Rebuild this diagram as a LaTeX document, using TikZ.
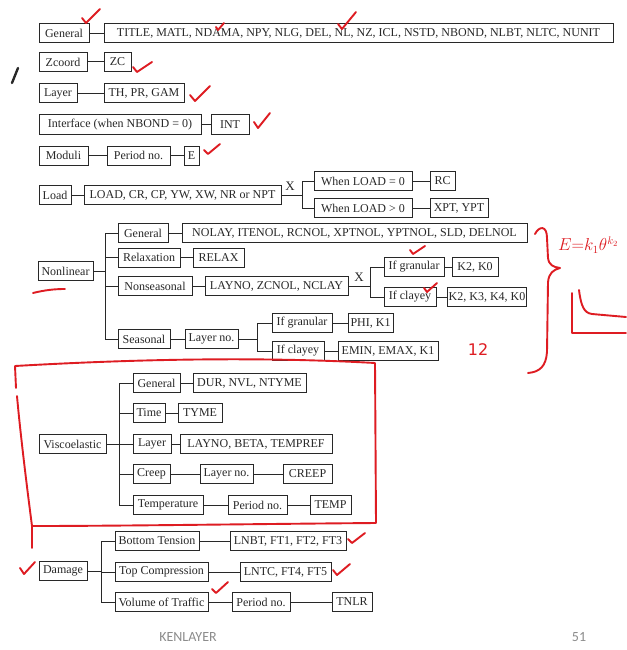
\documentclass[tikz,border=0pt]{standalone}
\usepackage{fontspec}
\setmainfont{Liberation Serif}
\newfontfamily\slidefont{Carlito}
\newfontfamily\handfont{DejaVu Sans}
\usetikzlibrary{calc}
\definecolor{ink}{RGB}{40,40,40}
\definecolor{pen}{RGB}{222,28,34}
\definecolor{foot}{RGB}{140,140,140}
\newcommand\mybox[5]{\node[bx,minimum width={#3-#2}] (#1) at ({(#2+#3)/2},#4) {#5};}
\begin{document}
\begin{tikzpicture}[x=1pt,y=-1pt,
  font=\fontsize{12}{14}\selectfont,
  bx/.style={draw=ink,line width=1pt,minimum height=19pt,inner sep=1pt,text=ink},
  ln/.style={draw=ink,line width=1pt},
  xlab/.style={inner sep=0pt,text=ink,font=\fontsize{13}{14}\selectfont},
  tick/.style={draw=pen,line width=1.9pt,line cap=round,line join=round}]
\useasboundingbox (0,0) rectangle (626,650);
\fill[white] (0,0) rectangle (626,650);

% ---- simple rows
\mybox{g}{39}{89}{33.5}{General}
\mybox{gl}{104}{613}{33.5}{TITLE, MATL, NDAMA, NPY, NLG, DEL, NL, NZ, ICL, NSTD, NBOND, NLBT, NLTC, NUNIT}
\draw[ln] (g) -- (gl);
\mybox{z}{39}{87}{62}{Zcoord}
\mybox{zc}{104}{131}{62}{ZC}
\draw[ln] (z) -- (zc);
\mybox{ly}{39}{77}{93.5}{Layer}
\mybox{lyv}{104}{184}{93.5}{TH, PR, GAM}
\draw[ln] (ly) -- (lyv);
\mybox{inf}{39}{201}{124.5}{Interface (when NBOND = 0)}
\mybox{int}{211}{249}{124.5}{INT}
\draw[ln] (inf) -- (int);
\mybox{mo}{39}{88}{155.5}{Moduli}
\mybox{mop}{107}{170}{155.5}{Period no.}
\mybox{moe}{184}{199}{155.5}{E}
\draw[ln] (mo) -- (mop);
\draw[ln] (mop) -- (moe);

% ---- Load
\mybox{ld}{39}{71}{195}{Load}
\mybox{ldv}{84}{281}{195}{LOAD, CR, CP, YW, XW, NR or NPT}
\draw[ln] (ld) -- (ldv);
\node[xlab] (x1) at (290,186) {X};
\coordinate (lb) at (302,195);
\mybox{w0}{314}{412}{181}{When LOAD = 0}
\mybox{rc}{430}{455}{181}{RC}
\mybox{w1}{314}{412}{208}{When LOAD > 0}
\mybox{xpt}{430}{488}{208}{XPT, YPT}
\draw[ln] (ldv) -- (lb);
\draw[ln] (lb) |- (w0);
\draw[ln] (lb) |- (w1);
\draw[ln] (w0) -- (rc);
\draw[ln] (w1) -- (xpt);

% ---- Nonlinear
\mybox{nl}{38}{93}{271}{Nonlinear}
\coordinate (nb0) at (105,271);
\mybox{nlg}{118}{168}{233}{General}
\mybox{nlgv}{182}{527}{233}{NOLAY, ITENOL, RCNOL, XPTNOL, YPTNOL, SLD, DELNOL}
\mybox{nlr}{118}{180}{257.5}{Relaxation}
\mybox{nlrv}{193}{244}{257.5}{RELAX}
\mybox{nlns}{118}{192}{286}{Nonseasonal}
\mybox{nlnsv}{205}{348}{286}{LAYNO, ZCNOL, NCLAY}
\node[xlab] (x2) at (359,277) {X};
\coordinate (nb1) at (370,286);
\mybox{ig1}{384}{444}{267}{If granular}
\mybox{k20}{452}{498}{267}{K2, K0}
\mybox{ic1}{384}{436}{297}{If clayey}
\mybox{k2340}{450}{524}{297}{K2, K3, K4, K0}
\mybox{nls}{118}{170}{339}{Seasonal}
\mybox{nlsl}{185}{238}{339}{Layer no.}
\coordinate (nb2) at (257,339);
\mybox{ig2}{272}{332}{323}{If granular}
\mybox{phi}{348}{393}{323}{PHI, K1}
\mybox{ic2}{272}{324}{351}{If clayey}
\mybox{emin}{338}{438}{351}{EMIN, EMAX, K1}
\draw[ln] (nl) -- (nb0);
\foreach \c in {nlg,nlr,nlns,nls} \draw[ln] (nb0) |- (\c);
\draw[ln] (nlg) -- (nlgv);
\draw[ln] (nlr) -- (nlrv);
\draw[ln] (nlns) -- (nlnsv);
\draw[ln] (nlnsv) -- (nb1);
\draw[ln] (nb1) |- (ig1);
\draw[ln] (nb1) |- (ic1);
\draw[ln] (ig1) -- (k20);
\draw[ln] (ic1) -- (k2340);
\draw[ln] (nls) -- (nlsl);
\draw[ln] (nlsl) -- (nb2);
\draw[ln] (nb2) |- (ig2);
\draw[ln] (nb2) |- (ic2);
\draw[ln] (ig2) -- (phi);
\draw[ln] (ic2) -- (emin);

% ---- Viscoelastic
\mybox{ve}{39}{106}{444}{Viscoelastic}
\coordinate (vb) at (119,444);
\mybox{veg}{133}{180}{383}{General}
\mybox{vegv}{193}{306}{383}{DUR, NVL, NTYME}
\mybox{vet}{133}{165}{413}{Time}
\mybox{vetv}{178}{222}{413}{TYME}
\mybox{vel}{133}{171}{444}{Layer}
\mybox{velv}{180}{332}{444}{LAYNO, BETA, TEMPREF}
\mybox{vec}{133}{170}{474}{Creep}
\mybox{vecl}{200}{253}{474}{Layer no.}
\mybox{vecc}{283}{332}{474}{CREEP}
\mybox{vetp}{133}{203}{505}{Temperature}
\mybox{vetpp}{228}{287}{505}{Period no.}
\mybox{vetpt}{310}{351}{505}{TEMP}
\draw[ln] (ve) -- (vb);
\foreach \c in {veg,vet,vel,vec,vetp} \draw[ln] (vb) |- (\c);
\draw[ln] (veg) -- (vegv);
\draw[ln] (vet) -- (vetv);
\draw[ln] (vel) -- (velv);
\draw[ln] (vec) -- (vecl);
\draw[ln] (vecl) -- (vecc);
\draw[ln] (vetp) -- (vetpp);
\draw[ln] (vetpp) -- (vetpt);

% ---- Damage
\mybox{dm}{39}{87}{571}{Damage}
\coordinate (db) at (101,571);
\mybox{dbt}{115}{199}{541}{Bottom Tension}
\mybox{dbtv}{230}{346}{541}{LNBT, FT1, FT2, FT3}
\mybox{dtc}{115}{208}{572}{Top Compression}
\mybox{dtcv}{240}{331}{572}{LNTC, FT4, FT5}
\mybox{dvt}{115}{208}{602}{Volume of Traffic}
\mybox{dvtp}{232}{290}{602}{Period no.}
\mybox{dvtt}{332}{372}{602}{TNLR}
\draw[ln] (dm) -- (db);
\foreach \c in {dbt,dtc,dvt} \draw[ln] (db) |- (\c);
\draw[ln] (dbt) -- (dbtv);
\draw[ln] (dtc) -- (dtcv);
\draw[ln] (dvt) -- (dvtp);
\draw[ln] (dvtp) -- (dvtt);

% ---- footer
\node[font=\slidefont\fontsize{14}{16}\selectfont,text=foot] (kl) at (188,637) {KENLAYER};
\node[font=\slidefont\fontsize{14}{16}\selectfont,text=foot] (pg) at (579,637) {51};

% ---- handwritten marks
\draw[ink,line width=2.4pt,line cap=round] (18,68) -- (12,83);
\draw[tick] (16,388) -- (15,366) .. controls (120,360) and (250,356) .. (375,363)
  -- (376,523) .. controls (250,524) and (120,526) .. (32,526);
\draw[tick] (32,548) -- (32,526) .. controls (26,480) and (20,430) .. (17,396);
\draw[tick] (535,234) .. controls (539,226) and (547,225) .. (547,238) -- (548,258)
  .. controls (549,265) and (553,267) .. (560,268)
  .. controls (553,270) and (549,273) .. (548,282) -- (547,352)
  .. controls (546,366) and (540,372) .. (528,373);
\node[text=pen,anchor=west,font=\fontsize{16}{18}\selectfont,inner sep=0pt] (eq) at (558,245) {$E{=}k_1\theta^{k_2}$};
\node[text=pen,font=\handfont\fontsize{16}{18}\selectfont] (n12) at (478,350) {12};
\draw[tick] (572,293) -- (572,333) -- (626,333);
\draw[tick] (579,290) .. controls (581,306) and (584,313) .. (592,314) -- (626,317);
\draw[tick] (33,293) .. controls (45,290) and (55,289) .. (65,289);
% checks
\draw[tick] (82,18) -- (86,23) -- (100,9);
\draw[tick] (216,27) -- (218,30) -- (224,23);
\draw[tick] (338,24) -- (342,29) -- (356,12);
\draw[tick] (133,67) -- (137,72) -- (152,62);
\draw[tick] (190,95) -- (195,101) -- (210,86);
\draw[tick] (254,122) -- (258,128) -- (270,113);
\draw[tick] (204,150) -- (208,154) -- (220,144);
\draw[tick] (410,250) -- (413,254) -- (425,246);
\draw[tick] (424,288) -- (427,292) -- (437,283);
\draw[tick] (348,539) -- (352,543) -- (365,533);
\draw[tick] (333,570) -- (337,575) -- (350,564);
\draw[tick] (212,589) -- (216,593) -- (228,582);
\draw[tick] (20,568) -- (24,574) -- (35,562);
\end{tikzpicture}
\end{document}
